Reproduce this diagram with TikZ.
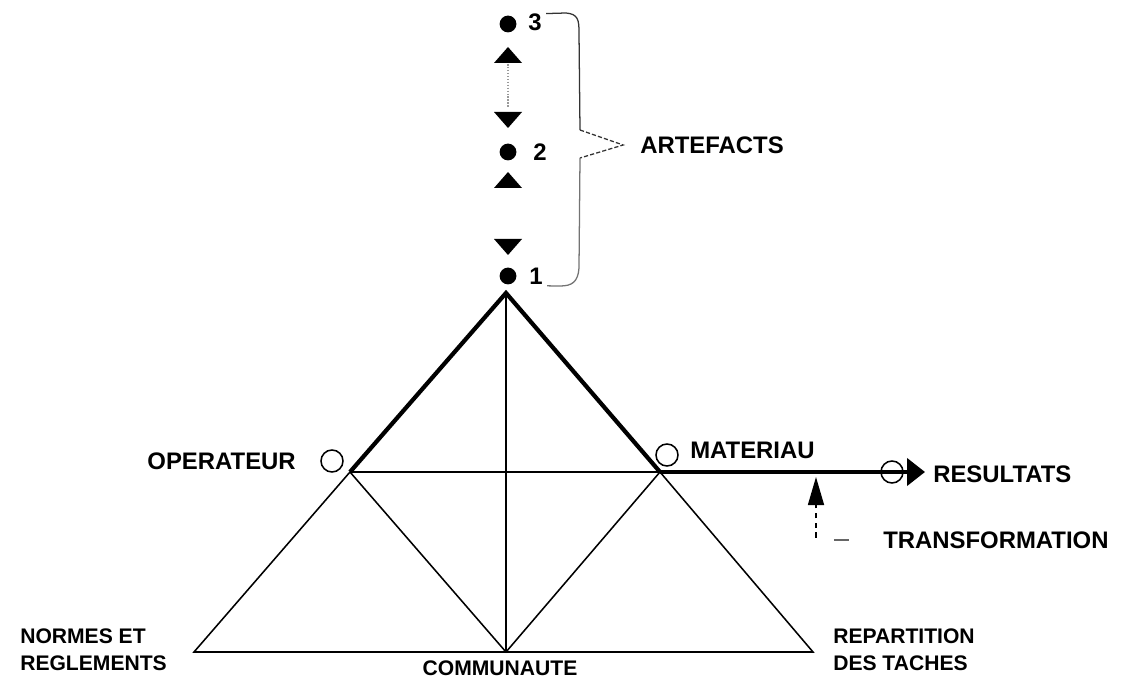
\documentclass[tikz,border=0pt]{standalone}
\usepackage{fontspec}
\setmainfont{Liberation Sans}
\usetikzlibrary{arrows.meta}

\begin{document}
\begin{tikzpicture}[
    x=0.025cm, y=-0.025cm,
    lbl/.style={font=\fontsize{17}{19}\selectfont\bfseries, inner sep=0pt},
    lowlbl/.style={font=\fontsize{15}{19}\selectfont\bfseries, inner sep=0pt},
    thinline/.style={line width=1.1pt},
    heavy/.style={line width=3pt},
    ring/.style={draw, circle, line width=1.1pt, minimum size=0.55cm, inner sep=0pt},
    bullet/.style={fill, circle, minimum size=0.42cm, inner sep=0pt},
    brace/.style={line width=0.9pt, draw=black!80},
    triup/.pic={\fill (-14,0) -- (14,0) -- (0,-16) -- cycle;},
    tridown/.pic={\fill (-14,0) -- (14,0) -- (0,16) -- cycle;}
]
\useasboundingbox (0,0) rectangle (1121,682);

\coordinate (apex) at (506,293);
\coordinate (op) at (350,472);
\coordinate (mat) at (660,472);
\coordinate (bl) at (194,652);
\coordinate (bm) at (506,652);
\coordinate (br) at (813,652);
\coordinate (out) at (925,472);

\draw[thinline] (op) -- (mat);
\draw[thinline] (apex) -- (bm);
\draw[thinline] (op) -- (bl) -- (br) -- (mat);
\draw[thinline] (op) -- (bm) -- (mat);
\draw[heavy, line join=miter] (op) -- (apex) -- (mat);
\draw[line width=2.6pt, -{Triangle[length=0.45cm, width=0.68cm]}] (mat) -- (out);

\node[ring] (opring) at (332,461) {};
\node[ring] (matring) at (667,455) {};
\node[ring] (resring) at (892,472) {};

\node[lbl, anchor=east] (operateur) at (296,461) {OPERATEUR};
\node[lbl, anchor=west] (materiau) at (690,450) {MATERIAU};
\node[lbl, anchor=west] (resultats) at (933,474) {RESULTATS};
\node[lbl, anchor=west] (transformation) at (883,540) {TRANSFORMATION};
\node[lowlbl, anchor=west, align=left] (normes) at (20,650) {NORMES ET\\REGLEMENTS};
\node[lowlbl] (communaute) at (500,668) {COMMUNAUTE};
\node[lowlbl, anchor=west, align=left] (repartition) at (833,650) {REPARTITION\\DES TACHES};

\coordinate (tbase) at (816,538);
\coordinate (ttip) at (816,477);
\draw[thinline, dashed, dash pattern=on 4pt off 3pt,
      -{Triangle[length=0.7cm, width=0.4cm]}] (tbase) -- (ttip);
\draw[thinline, black!60] ([xshift=-35pt]transformation.west) -- ([xshift=-24pt]transformation.west);

\node[bullet] (a3) at (508,24) {};
\node[bullet] (a2) at (508,152) {};
\node[bullet] (a1) at (508,276) {};
\node[lbl, anchor=west] (n3) at (528,22) {3};
\node[lbl, anchor=west] (n2) at (533,152) {2};
\node[lbl, anchor=west] (n1) at (529,276) {1};
\pic at (508,63) {triup};
\pic at (508,112) {tridown};
\pic at (508,188) {triup};
\pic at (508,239) {tridown};
\draw[thinline, black!40, densely dotted] (508,64) -- (508,108);

\node[lbl, anchor=west] (artefacts) at (640,145) {ARTEFACTS};
\coordinate (tip) at ([xshift=-12pt]artefacts.west);
\draw[brace] ([xshift=3pt, yshift=6pt]n3.east) -- (566,13) .. controls (578,14) and (579,20) .. (579,32)
    -- (580,130);
\draw[brace, dashed, dash pattern=on 3pt off 1.5pt] (580,130) -- (tip) -- (580,158);
\draw[brace, draw=black!55] (580,158) -- (579,268) .. controls (578,282) and (572,286) .. (560,286)
    -- ([xshift=3pt, yshift=-7pt]n1.east);
\end{tikzpicture}
\end{document}
